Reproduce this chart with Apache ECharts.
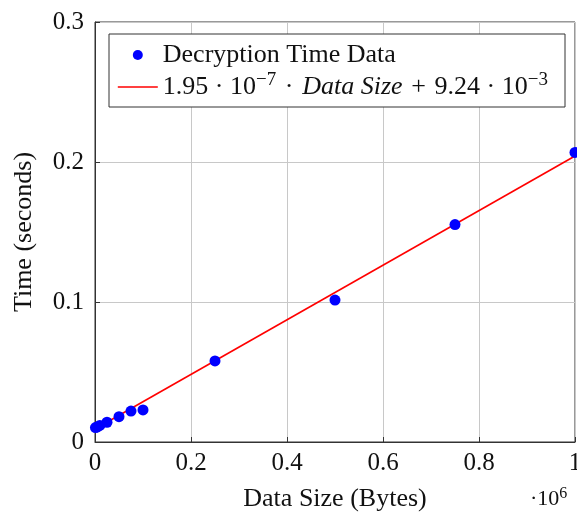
<!DOCTYPE html>
<html>
<head>
<meta charset="utf-8">
<script src="https://cdn.jsdelivr.net/npm/echarts@6/dist/echarts.min.js"></script>
<style>html,body{margin:0;padding:0;background:#fff;}#c{width:577px;height:512px;}</style>
</head>
<body>
<div id="c"></div>
<script>
// Data (bytes, seconds)
var dataSizes = [1000, 5000, 10000, 25000, 50000, 75000, 100000, 250000, 500000, 750000, 1000000];
var decryptTimes = [0.0103, 0.0108, 0.0118, 0.0141, 0.0181, 0.0221, 0.0229, 0.0579, 0.1014, 0.1553, 0.2068];
// fitted line endpoints
var fitX = [0, 1000000];
var fitY = [0.00924, 0.20424];
var xTicks = [0, 200000, 400000, 600000, 800000, 1000000];
var yTicks = [0, 0.1, 0.2, 0.3];

var FONT = 'Liberation Serif';
var chart = echarts.init(document.getElementById('c'));
var scatterData = dataSizes.map(function (x, i) { return [x, decryptTimes[i]]; });
var lineData = fitX.map(function (x, i) { return [x, fitY[i]]; });

var fitName = 'fit';
var SP = '\u2004';
chart.setOption({
  animation: false,
  backgroundColor: '#fff',
  grid: { left: 95, right: 2, top: 22, bottom: 70, show: true, borderColor: '#333', borderWidth: 1,
          backgroundColor: 'transparent', containLabel: false, outerBoundsMode: 'none' },
  xAxis: {
    type: 'value', min: 0, max: 1000000, interval: 200000,
    name: 'Data Size (Bytes)', nameLocation: 'middle', nameGap: 44,
    nameTextStyle: { fontFamily: FONT, fontSize: 26, color: '#111' },
    axisLine: { show: true, lineStyle: { color: '#333', width: 1 } },
    axisTick: { show: true, inside: true, length: 5, lineStyle: { color: '#333' } },
    splitLine: { show: true, lineStyle: { color: '#c8c8c8', width: 1 } },
    axisLabel: {
      fontFamily: FONT, fontSize: 25, color: '#111', margin: 9, showMaxLabel: true, showMinLabel: true,
      formatter: function (v) { return String(+(v / 1e6).toFixed(1)); }
    }
  },
  yAxis: {
    type: 'value', min: 0, max: 0.3, interval: 0.1,
    name: 'Time (seconds)', nameLocation: 'middle', nameGap: 58,
    nameTextStyle: { fontFamily: FONT, fontSize: 26, color: '#111' },
    axisLine: { show: true, lineStyle: { color: '#333', width: 1 } },
    axisTick: { show: true, inside: true, length: 5, lineStyle: { color: '#333' } },
    splitLine: { show: true, lineStyle: { color: '#c8c8c8', width: 1 } },
    axisLabel: {
      fontFamily: FONT, fontSize: 25, color: '#111', margin: 11, showMaxLabel: true, showMinLabel: true,
      formatter: function (v) { return String(+v.toFixed(1)); }
    }
  },
  legend: {
    orient: 'vertical', left: 117, top: 39, padding: 0, itemGap: 0,
    itemWidth: 40, itemHeight: 10, z: 5,
    data: [
      { name: 'Decryption Time Data', icon: 'circle' },
      { name: fitName, itemStyle: { opacity: 0 }, lineStyle: { color: '#ff0000', width: 1.6, opacity: 1 } }
    ],
    textStyle: {
      fontFamily: FONT, fontSize: 26, color: '#111', lineHeight: 32,
      rich: {
        n: { fontFamily: FONT, fontSize: 26, color: '#111', lineHeight: 32 },
        it: { fontFamily: FONT, fontStyle: 'italic', fontSize: 26, color: '#111', lineHeight: 32 },
        sup: { fontFamily: FONT, fontSize: 19, color: '#111', lineHeight: 16, verticalAlign: 'top' }
      }
    },
    formatter: function (name) {
      if (name === fitName) {
        return '{n|1.95 · 10}{sup|−7}{n|' + SP + '·' + SP + '}{it|Data Size}{n|' + SP + '+' + SP + '9.24 · 10}{sup|−3}';
      }
      return '{n|' + name + '}';
    }
  },
  graphic: [
    { type: 'rect', z: 3, shape: { x: 109, y: 34, width: 456, height: 73 },
      style: { fill: '#fff', stroke: '#333', lineWidth: 1 } },
    { type: 'text', left: 530, top: 486, z: 3,
      style: {
        text: '{n|·10}{sup|6}', font: '22px ' + FONT,
        rich: {
          n: { fontFamily: FONT, fontSize: 22, fill: '#111', lineHeight: 26 },
          sup: { fontFamily: FONT, fontSize: 16, fill: '#111', lineHeight: 14, verticalAlign: 'top' }
        }
      } }
  ],
  series: [
    {
      name: fitName, type: 'line', data: lineData, symbol: 'none', z: 2,
      lineStyle: { color: '#ff0000', width: 1.6 }, itemStyle: { color: '#ff0000' }
    },
    {
      name: 'Decryption Time Data', type: 'scatter', data: scatterData, z: 3,
      symbolSize: 11, itemStyle: { color: '#0000ff', opacity: 1 }
    }
  ]
});
</script>
</body>
</html>
